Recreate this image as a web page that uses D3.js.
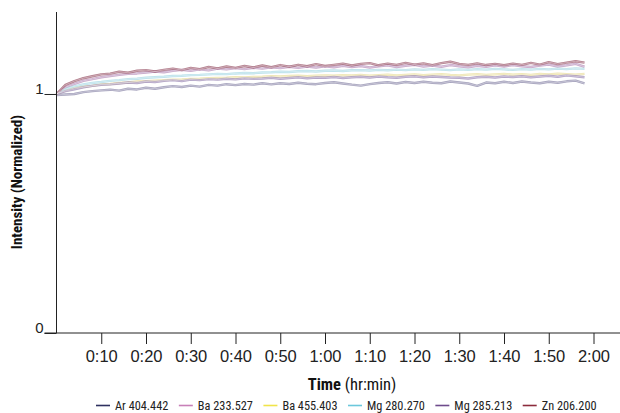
<!DOCTYPE html>
<html>
<head>
<meta charset="utf-8">
<script src="https://cdn.jsdelivr.net/npm/d3@7"></script>
<style>
  body { margin: 0; background: #fff; }
  svg { display: block; font-family: "Liberation Sans Narrow", "Arial Narrow", "Roboto", sans-serif; font-stretch: condensed; }
</style>
</head>
<body>
<div id="chart"></div>
<script>

// time in minutes
var times = [0, 2, 4, 6, 8, 10, 12, 14, 16, 18, 20, 22, 24, 26, 28, 30, 32, 34, 36, 38,
  40, 42, 44, 46, 48, 50, 52, 54, 56, 58, 60, 62, 64, 66, 68, 70, 72, 74, 76, 78,
  80, 82, 84, 86, 88, 90, 92, 94, 96, 98, 100, 102, 104, 106, 108, 110, 112, 114, 116, 118];

var seriesNames = ["Ar 404.442", "Ba 233.527", "Ba 455.403", "Mg 280.270", "Mg 285.213", "Zn 206.200"];
var legendColors = ["#2e3160", "#c880b8", "#f0e44a", "#6cc8dc", "#6e4c8c", "#8c2c3c"];
var lineColors = ["#8a86a8", "#b58cb8", "#e8dc98", "#a6d8e4", "#9a86b4", "#9a5468"];

var arValues = [0.995, 0.998, 1.000, 1.008, 1.012, 1.015, 1.018, 1.014, 1.022, 1.019, 1.026, 1.022, 1.028, 1.033, 1.029, 1.035, 1.031, 1.038, 1.035, 1.041,
  1.037, 1.042, 1.039, 1.045, 1.040, 1.045, 1.042, 1.047, 1.043, 1.041, 1.046, 1.049, 1.044, 1.039, 1.035, 1.041, 1.046, 1.049, 1.044, 1.050,
  1.046, 1.051, 1.047, 1.045, 1.052, 1.048, 1.044, 1.034, 1.048, 1.045, 1.051, 1.046, 1.052, 1.048, 1.045, 1.051, 1.047, 1.053, 1.056, 1.044];
var ba233Values = [1.000, 1.028, 1.042, 1.055, 1.062, 1.070, 1.075, 1.080, 1.084, 1.086, 1.090, 1.094, 1.091, 1.097, 1.101, 1.097, 1.103, 1.099, 1.106, 1.103,
  1.108, 1.104, 1.110, 1.106, 1.112, 1.108, 1.114, 1.109, 1.115, 1.111, 1.116, 1.112, 1.118, 1.113, 1.117, 1.111, 1.116, 1.120, 1.113, 1.118,
  1.122, 1.115, 1.119, 1.114, 1.121, 1.116, 1.112, 1.118, 1.114, 1.120, 1.115, 1.121, 1.116, 1.113, 1.119, 1.123, 1.115, 1.120, 1.126, 1.114];
var ba455Values = [1.000, 1.015, 1.025, 1.030, 1.034, 1.040, 1.042, 1.046, 1.048, 1.052, 1.054, 1.056, 1.058, 1.060, 1.061, 1.063, 1.064, 1.066, 1.067, 1.068,
  1.070, 1.069, 1.071, 1.072, 1.074, 1.073, 1.075, 1.076, 1.074, 1.077, 1.078, 1.076, 1.079, 1.078, 1.080, 1.077, 1.079, 1.081, 1.078, 1.080,
  1.082, 1.079, 1.081, 1.083, 1.080, 1.078, 1.081, 1.083, 1.080, 1.082, 1.084, 1.081, 1.083, 1.080, 1.084, 1.082, 1.085, 1.083, 1.081, 1.084];
var mg280Values = [1.000, 1.020, 1.032, 1.040, 1.046, 1.050, 1.055, 1.058, 1.062, 1.064, 1.068, 1.070, 1.072, 1.075, 1.076, 1.079, 1.080, 1.082, 1.084, 1.083,
  1.086, 1.088, 1.087, 1.090, 1.091, 1.093, 1.092, 1.095, 1.096, 1.094, 1.097, 1.098, 1.096, 1.099, 1.100, 1.098, 1.101, 1.099, 1.102, 1.100,
  1.103, 1.101, 1.104, 1.102, 1.100, 1.103, 1.101, 1.104, 1.102, 1.105, 1.103, 1.101, 1.104, 1.102, 1.105, 1.103, 1.106, 1.104, 1.107, 1.105];
var mg285Values = [1.000, 1.012, 1.020, 1.028, 1.034, 1.038, 1.040, 1.044, 1.048, 1.046, 1.052, 1.050, 1.055, 1.058, 1.054, 1.060, 1.058, 1.062, 1.060, 1.064,
  1.061, 1.066, 1.063, 1.065, 1.068, 1.064, 1.067, 1.070, 1.066, 1.069, 1.068, 1.071, 1.067, 1.070, 1.072, 1.069, 1.073, 1.070, 1.068, 1.072,
  1.074, 1.070, 1.073, 1.071, 1.069, 1.068, 1.065, 1.070, 1.072, 1.069, 1.073, 1.071, 1.074, 1.070, 1.073, 1.076, 1.072, 1.078, 1.074, 1.070];
var znValues = [1.000, 1.038, 1.054, 1.066, 1.074, 1.082, 1.085, 1.093, 1.089, 1.097, 1.100, 1.094, 1.101, 1.106, 1.100, 1.109, 1.104, 1.113, 1.107, 1.115,
  1.109, 1.117, 1.111, 1.119, 1.112, 1.121, 1.114, 1.122, 1.116, 1.125, 1.117, 1.122, 1.127, 1.119, 1.126, 1.129, 1.120, 1.127, 1.122, 1.130,
  1.123, 1.128, 1.121, 1.129, 1.135, 1.126, 1.122, 1.128, 1.121, 1.126, 1.120, 1.127, 1.122, 1.130, 1.123, 1.133, 1.125, 1.131, 1.137, 1.131];

var xTicks = [10, 20, 30, 40, 50, 60, 70, 80, 90, 100, 110, 120];
var yTicks = [0, 1];

var allValues = [arValues, ba233Values, ba455Values, mg280Values, mg285Values, znValues];

var width = 620, height = 413;
var margin = { top: 12, right: 26.5, bottom: 80, left: 56.5 };

var svg = d3.select("#chart").append("svg")
    .attr("width", width)
    .attr("height", height);

var x = d3.scaleLinear()
    .domain([0, 120])
    .range([margin.left, width - margin.right]);

var y = d3.scaleLinear()
    .domain([0, 1.343])
    .range([height - margin.bottom, margin.top]);

// lines, drawn with a coloured edge and pale core
var line = d3.line()
    .x(function(d, i) { return x(times[i]); })
    .y(function(d) { return y(d); });

var lines = svg.append("g");
allValues.forEach(function(vals, k) {
    lines.append("path")
        .attr("d", line(vals))
        .attr("fill", "none")
        .attr("stroke", lineColors[k])
        .attr("stroke-width", 2.4)
        .attr("stroke-linejoin", "round")
        .attr("opacity", 0.75);
});
allValues.forEach(function(vals, k) {
    lines.append("path")
        .attr("d", line(vals))
        .attr("fill", "none")
        .attr("stroke", "#fff")
        .attr("stroke-width", 0.7)
        .attr("opacity", 0.5);
});

// axes
var fmt = function(m) {
    var h = Math.floor(m / 60), mm = m % 60;
    return h + ":" + (mm < 10 ? "0" : "") + mm;
};

var xAxis = svg.append("g")
    .attr("transform", "translate(0," + y(0) + ")")
    .call(d3.axisBottom(x).tickValues(xTicks).tickFormat(fmt).tickSize(11).tickPadding(6));
xAxis.select(".domain").remove();
xAxis.selectAll("line").attr("stroke", "#222");
xAxis.selectAll("text")
    .attr("font-size", 16.5)
    .attr("fill", "#222")
    .attr("font-family", "inherit");

var yAxis = svg.append("g")
    .attr("transform", "translate(" + x(0) + ",0)")
    .call(d3.axisLeft(y).tickValues(yTicks).tickFormat(d3.format("d")).tickSize(12).tickPadding(15));
yAxis.select(".domain").remove();
yAxis.selectAll("line").attr("stroke", "#222");
yAxis.selectAll("text")
    .attr("font-size", 15)
    .attr("fill", "#222")
    .attr("dy", "-0.05em")
    .attr("x", -13)
    .attr("font-family", "inherit");

svg.append("line")
    .attr("x1", x(0) - 12).attr("x2", width)
    .attr("y1", y(0)).attr("y2", y(0))
    .attr("stroke", "#222");
svg.append("line")
    .attr("x1", x(0)).attr("x2", x(0))
    .attr("y1", y(0)).attr("y2", margin.top)
    .attr("stroke", "#222");

// axis titles
var xt = svg.append("text")
    .attr("x", 352)
    .attr("y", 390)
    .attr("text-anchor", "middle")
    .attr("font-size", 16.5)
    .attr("fill", "#111");
xt.append("tspan").attr("font-weight", "bold").text("Time");
xt.append("tspan").text(" (hr:min)");

svg.append("text")
    .attr("transform", "translate(22,182) rotate(-90)")
    .attr("text-anchor", "middle")
    .attr("font-size", 15)
    .attr("font-weight", "bold")
    .attr("fill", "#111")
    .text("Intensity (Normalized)");

// legend
var lx = 96, ly = 405.5;
seriesNames.forEach(function(name, k) {
    svg.append("line")
        .attr("x1", lx).attr("x2", lx + 14)
        .attr("y1", ly).attr("y2", ly)
        .attr("stroke", legendColors[k])
        .attr("stroke-width", 1.6);
    var t = svg.append("text")
        .attr("x", lx + 19)
        .attr("y", ly + 4)
        .attr("font-size", 12.3)
        .attr("fill", "#222")
        .text(name);
    lx += 19 + t.node().getComputedTextLength() + 10.5;
});

</script>
</body>
</html>
